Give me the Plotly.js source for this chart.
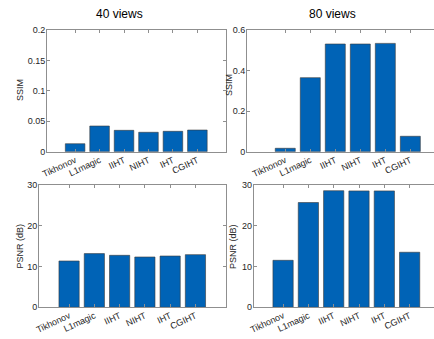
<!DOCTYPE html>
<html>
<head>
<meta charset="utf-8">
<script src="https://cdn.plot.ly/plotly-3.0.1.min.js"></script>
<style>html,body{margin:0;padding:0;overflow:hidden;background:#fff;width:434px;height:339px}#chart{width:460px;height:339px}</style>
</head>
<body>
<div id="chart"></div>
<script>
const methods = ["Tikhonov", "L1magic", "IIHT", "NIHT", "IHT", "CGIHT"];
const ssim40 = [0.0131, 0.0422, 0.0351, 0.0319, 0.0335, 0.0356];
const ssim80 = [0.0168, 0.365, 0.531, 0.531, 0.534, 0.076];
const psnr40 = [11.36, 13.17, 12.75, 12.34, 12.58, 12.92];
const psnr80 = [11.53, 25.7, 28.6, 28.55, 28.55, 13.5];
const ssim40Ticks = [0, 0.05, 0.1, 0.15, 0.2];
const ssim40TickText = ["0", "0.05", "0.1", "0.15", "0.2"];
const ssim80Ticks = [0, 0.2, 0.4, 0.6];
const ssim80TickText = ["0", "0.2", "0.4", "0.6"];
const psnrTicks = [0, 10, 20, 30];
const psnrTickText = ["0", "10", "20", "30"];
const panelTitles = ["40 views", "80 views"];
const yTitles = ["SSIM", "PSNR (dB)"];

const W = 460, H = 339;
const barColor = "#0063B6";
function bar(y, xa, ya) {
  return {type: "bar", x: methods, y: y, xaxis: xa, yaxis: ya,
    marker: {color: barColor, line: {color: "#3a3a3a", width: 0.6}},
    hoverinfo: "none", showlegend: false};
}
const data = [
  bar(ssim40, "x", "y"),
  bar(ssim80, "x2", "y2"),
  bar(psnr40, "x3", "y3"),
  bar(psnr80, "x4", "y4")
];
const axFont = {family: "Liberation Sans, Arial, sans-serif", size: 9, color: "#262626"};
function xax(px0, px1, r, anchor) {
  return {domain: [px0 / W, px1 / W], range: r, type: "category", anchor: anchor,
    showline: true, linecolor: "#8f8f8f", linewidth: 1, mirror: "ticks",
    ticks: "inside", ticklen: 3, tickcolor: "#8f8f8f", tickangle: -25,
    ticklabelstandoff: -1,
    tickfont: axFont, showgrid: false, zeroline: false, fixedrange: true};
}
function yax(py0, py1, r, tv, tt, anchor) {
  return {domain: [1 - py1 / H, 1 - py0 / H], range: r, anchor: anchor,
    tickvals: tv, ticktext: tt,
    showline: true, linecolor: "#8f8f8f", linewidth: 1, mirror: "ticks",
    ticks: "inside", ticklen: 3, tickcolor: "#8f8f8f",
    ticklabelstandoff: -1,
    tickfont: axFont, showgrid: false, zeroline: false, fixedrange: true};
}
const titleFont = {family: "Liberation Sans, Arial, sans-serif", size: 12, color: "#000"};
const yTitleFont = {family: "Liberation Sans, Arial, sans-serif", size: 9, color: "#262626"};
function ann(text, px, py, font, angle) {
  return {text: text, x: px / W, y: 1 - py / H, xref: "paper", yref: "paper",
    showarrow: false, font: font, textangle: angle || 0, xanchor: "center", yanchor: "middle"};
}
const layout = {
  width: W, height: H,
  margin: {l: 0, r: 0, t: 0, b: 0},
  paper_bgcolor: "#fff", plot_bgcolor: "#fff",
  bargap: 0.2,
  xaxis: xax(47, 225.5, [-1.15, 6.15], "y"),
  yaxis: yax(30, 151.7, [0, 0.2], ssim40Ticks, ssim40TickText, "x"),
  xaxis2: xax(247, 448.6, [-1.53, 6.53], "y2"),
  yaxis2: yax(30, 151.7, [0, 0.6], ssim80Ticks, ssim80TickText, "x2"),
  xaxis3: xax(39, 225.5, [-1.19, 6.19], "y3"),
  yaxis3: yax(185, 307.3, [0, 30], psnrTicks, psnrTickText, "x3"),
  xaxis4: xax(253.7, 439, [-1.16, 6.16], "y4"),
  yaxis4: yax(185, 307.3, [0, 30], psnrTicks, psnrTickText, "x4"),
  annotations: [
    ann(panelTitles[0], 119, 14, titleFont),
    ann(panelTitles[1], 332, 14, titleFont),
    ann(yTitles[0], 20, 90, yTitleFont, -90),
    ann(yTitles[0], 229, 85, yTitleFont, -90),
    ann(yTitles[1], 19.5, 246, yTitleFont, -90),
    ann(yTitles[1], 233, 246, yTitleFont, -90)
  ]
};
Plotly.newPlot("chart", data, layout, {staticPlot: true, displayModeBar: false});
</script>
</body>
</html>
